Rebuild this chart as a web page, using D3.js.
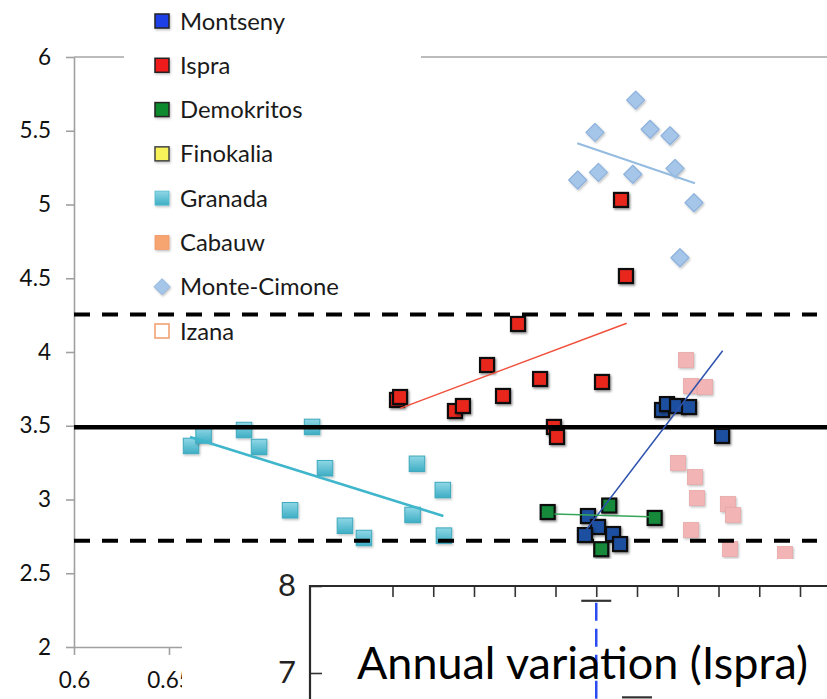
<!DOCTYPE html>
<html>
<head>
<meta charset="utf-8">
<script src="https://cdn.jsdelivr.net/npm/d3@7"></script>
<style>
  html, body { margin: 0; padding: 0; background: #fff; }
  svg { display: block; font-family: Lato, "Open Sans", "DejaVu Sans", sans-serif; }
</style>
</head>
<body>
<svg id="chart" width="827" height="699"></svg>
<script>
// ---- Data: x = ratio, y = value per station ----
const montsenyX = [0.8705, 0.8758, 0.8689, 0.8837, 0.8874, 0.9095, 0.9121, 0.9174, 0.9237, 0.9411];
const montsenyY = [2.888, 2.814, 2.759, 2.766, 2.698, 3.607, 3.647, 3.634, 3.627, 3.431];

const ispraX = [0.7700, 0.7716, 0.8005, 0.8047, 0.8174, 0.8258, 0.8337, 0.8453, 0.8526, 0.8542, 0.8779, 0.8879, 0.8905];
const ispraY = [3.675, 3.695, 3.600, 3.634, 3.912, 3.702, 4.190, 3.817, 3.492, 3.424, 3.797, 5.031, 4.515];

const demokritosX = [0.8493, 0.8817, 0.9056, 0.8775];
const demokritosY = [2.915, 2.959, 2.875, 2.663];

const granadaX = [0.6616, 0.6682, 0.6895, 0.6974, 0.7253, 0.7321, 0.7137, 0.7426, 0.7526, 0.7805, 0.7782, 0.7941, 0.7947];
const granadaY = [3.363, 3.434, 3.471, 3.356, 3.492, 3.212, 2.927, 2.822, 2.739, 3.242, 2.895, 3.064, 2.755];

const cabauwX = [0.9221, 0.9247, 0.9321, 0.9179, 0.9268, 0.9279, 0.9442, 0.9468, 0.9247, 0.9453, 0.9742];
const cabauwY = [3.946, 3.769, 3.763, 3.247, 3.153, 3.010, 2.969, 2.895, 2.793, 2.664, 2.631];

const monteCimoneX = [0.8956, 0.8742, 0.9032, 0.9137, 0.8651, 0.8760, 0.8941, 0.9163, 0.9263, 0.9189];
const monteCimoneY = [5.708, 5.489, 5.510, 5.466, 5.166, 5.218, 5.205, 5.245, 5.012, 4.639];

// Linear trend lines (end points)
const ispraTrendX = [0.7716, 0.8909],       ispraTrendY = [3.618, 4.195];
const granadaTrendX = [0.6611, 0.7944],     granadaTrendY = [3.424, 2.888];
const montsenyTrendX = [0.8698, 0.9414],    montsenyTrendY = [2.798, 4.009];
const demokritosTrendX = [0.8528, 0.9028],  demokritosTrendY = [2.902, 2.883];
const monteCimoneTrendX = [0.8649, 0.9268], monteCimoneTrendY = [5.415, 5.144];

// Reference levels: mean and mean ± spread
const refMean = 3.49;
const refBand = [4.255, 2.72];

// Axis ticks
const yTicks = [2, 2.5, 3, 3.5, 4, 4.5, 5, 5.5, 6];
const xTicks = [0.6, 0.65];

// Legend entries
const legendNames = ["Montseny", "Ispra", "Demokritos", "Finokalia", "Granada", "Cabauw", "Monte-Cimone", "Izana"];

// Inset: annual variation (Ispra), monthly whiskers
const insetTicks = [2, 3, 4, 5, 6, 7, 8, 9, 10, 11, 12];
const insetYTicks = [7, 8];
const insetMonth = [7, 8];
const insetWhiskerTop = [7.83, 6.72];
const insetWhiskerBottom = [5.9, 5.9];
const insetTitle = "Annual variation (Ispra)";

// ---- Drawing ----
const W = 827, H = 699;
const svg = d3.select("#chart");
const x = d3.scaleLinear().domain([0.6, 1.0]).range([74, 834]);
const y = d3.scaleLinear().domain([2, 6]).range([647, 57]);

const defs = svg.append("defs");
const sh = defs.append("filter").attr("id", "shadow").attr("x", "-40%").attr("y", "-40%").attr("width", "180%").attr("height", "180%");
sh.append("feDropShadow").attr("dx", 1.2).attr("dy", 1.6).attr("stdDeviation", 1.1).attr("flood-color", "#000").attr("flood-opacity", 0.45);
const shSoft = defs.append("filter").attr("id", "shadowSoft").attr("x", "-40%").attr("y", "-40%").attr("width", "180%").attr("height", "180%");
shSoft.append("feDropShadow").attr("dx", 1).attr("dy", 1.4).attr("stdDeviation", 1.2).attr("flood-color", "#000").attr("flood-opacity", 0.25);

const gGran = defs.append("linearGradient").attr("id", "granGrad").attr("x1", 0).attr("y1", 0).attr("x2", 0).attr("y2", 1);
gGran.append("stop").attr("offset", "0%").attr("stop-color", "#8fd7e6");
gGran.append("stop").attr("offset", "100%").attr("stop-color", "#3eaec4");

// Top frame line
svg.append("line")
  .attr("x1", x(0.6)).attr("x2", W).attr("y1", y(6)).attr("y2", y(6))
  .attr("stroke", "#a6a6a6").attr("stroke-width", 1.6);

// Y axis
const gy = svg.append("g").attr("transform", `translate(${x(0.6)},0)`)
  .call(d3.axisLeft(y).tickValues(yTicks).tickSize(8).tickSizeOuter(0).tickPadding(15).tickFormat(d3.format("")));
gy.attr("font-family", null).attr("font-size", null);
gy.select(".domain").attr("stroke", "#a0a0a0").attr("stroke-width", 1.6);
gy.selectAll(".tick line").attr("stroke", "#a0a0a0").attr("stroke-width", 1.6);
gy.selectAll(".tick text").attr("font-size", 22.5).attr("fill", "#111");

// X axis (the part left of the inset)
const gx = svg.append("g").attr("transform", `translate(0,${y(2)})`)
  .call(d3.axisBottom(x).tickValues(xTicks).tickSize(8).tickSizeOuter(0).tickPadding(17).tickFormat(d3.format("")));
gx.attr("font-family", null).attr("font-size", null);
gx.select(".domain").attr("stroke", "#a0a0a0").attr("stroke-width", 1.6);
gx.selectAll(".tick line").attr("stroke", "#a0a0a0").attr("stroke-width", 1.6);
gx.selectAll(".tick text").attr("font-size", 22.5).attr("fill", "#111");

// Legend background
svg.append("rect").attr("x", 124).attr("y", 0).attr("width", 297).attr("height", 300).attr("fill", "#fff");

function pts(xs, ys) { return xs.map((v, i) => ({ x: v, y: ys[i] })); }

function squares(data, size, fill, stroke, sw, filter) {
  svg.append("g").selectAll("rect").data(data).join("rect")
    .attr("x", d => x(d.x) - size / 2).attr("y", d => y(d.y) - size / 2)
    .attr("width", size).attr("height", size)
    .attr("fill", fill).attr("stroke", stroke).attr("stroke-width", sw)
    .attr("filter", filter);
}

function diamonds(data, size, fill, stroke) {
  svg.append("g").selectAll("path").data(data).join("path")
    .attr("d", d => {
      const cx = x(d.x), cy = y(d.y), r = size / 2;
      return `M${cx},${cy - r}L${cx + r},${cy}L${cx},${cy + r}L${cx - r},${cy}Z`;
    })
    .attr("fill", fill).attr("stroke", stroke).attr("stroke-width", 1.2)
    .attr("stroke-linejoin", "round").attr("filter", "url(#shadowSoft)");
}

function trend(xs, ys, color, width) {
  svg.append("line")
    .attr("x1", x(xs[0])).attr("y1", y(ys[0]))
    .attr("x2", x(xs[1])).attr("y2", y(ys[1]))
    .attr("stroke", color).attr("stroke-width", width);
}

// Points under the reference lines
squares(pts(cabauwX, cabauwY), 15, "#f2b4b4", "#e8a8a8", 0.8, "url(#shadowSoft)");
squares(pts(granadaX, granadaY), 15.5, "url(#granGrad)", "#3ea9bd", 1, "url(#shadowSoft)");
diamonds(pts(monteCimoneX, monteCimoneY), 18, "#a6c6e9", "#8db2dd");
squares(pts(ispraX, ispraY), 14, "#e8281e", "#111", 2.2, "url(#shadow)");

// Reference lines
svg.append("line")
  .attr("x1", x(0.6)).attr("x2", W).attr("y1", y(refMean)).attr("y2", y(refMean))
  .attr("stroke", "#000").attr("stroke-width", 4.5);
svg.append("g").selectAll("line").data(refBand).join("line")
  .attr("x1", x(0.6)).attr("x2", 817).attr("y1", d => y(d)).attr("y2", d => y(d))
  .attr("stroke", "#000").attr("stroke-width", 4).attr("stroke-dasharray", "16,12");

// Points above the reference lines
squares(pts(montsenyX, montsenyY), 14, "#1f4f9f", "#111", 2.2, "url(#shadow)");
squares(pts(demokritosX, demokritosY), 14, "#12893a", "#111", 2.2, "url(#shadow)");

// Trend lines
trend(ispraTrendX, ispraTrendY, "#f0503c", 1.5);
trend(granadaTrendX, granadaTrendY, "#3fb6cb", 2.6);
trend(montsenyTrendX, montsenyTrendY, "#2d52ad", 1.5);
trend(demokritosTrendX, demokritosTrendY, "#35a659", 1.5);
trend(monteCimoneTrendX, monteCimoneTrendY, "#94bbe0", 2);

// Legend
const legendStyle = {
  "Montseny":     { shape: "sq", fill: "#1c40e6", stroke: "#222", sw: 1.5 },
  "Ispra":        { shape: "sq", fill: "#f01a1a", stroke: "#222", sw: 1.5 },
  "Demokritos":   { shape: "sq", fill: "#0b8a2e", stroke: "#222", sw: 1.5 },
  "Finokalia":    { shape: "sq", fill: "#f7f25a", stroke: "#444", sw: 1.5 },
  "Granada":      { shape: "sq", fill: "url(#granGrad)", stroke: "#52bbd0", sw: 0.8 },
  "Cabauw":       { shape: "sq", fill: "#f6a46f", stroke: "#f0986a", sw: 0.8 },
  "Monte-Cimone": { shape: "dm", fill: "#a6c6e9", stroke: "#8db2dd", sw: 1 },
  "Izana":        { shape: "sq", fill: "#fff", stroke: "#f2a273", sw: 1.6 }
};
const legY = d3.scalePoint().domain(legendNames).range([21, 331]);
const leg = svg.append("g").selectAll("g").data(legendNames).join("g")
  .attr("transform", d => `translate(162,${legY(d)})`);
leg.each(function (d) {
  const s = legendStyle[d], g = d3.select(this);
  if (s.shape === "sq") {
    g.append("rect").attr("x", -7).attr("y", -7).attr("width", 14).attr("height", 14)
      .attr("fill", s.fill).attr("stroke", s.stroke).attr("stroke-width", s.sw)
      .attr("filter", d === "Izana" ? null : "url(#shadowSoft)");
  } else {
    g.append("path").attr("d", "M0,-8L8,0L0,8L-8,0Z")
      .attr("fill", s.fill).attr("stroke", s.stroke).attr("stroke-width", s.sw)
      .attr("filter", "url(#shadowSoft)");
  }
});
const legText = leg.append("text").attr("x", 18).attr("dy", "0.36em")
  .attr("font-size", 20).attr("fill", "#1a1a1a").text(d => d);
const mcW = legText.filter(d => d === "Monte-Cimone").node().getComputedTextLength();
legText.attr("font-size", 20 * 159 / mcW);

// ---- Inset ----
svg.append("rect").attr("x", 182).attr("y", 559).attr("width", W - 182).attr("height", H - 559).attr("fill", "#fff");

const ix = d3.scaleLinear().domain([0, 12]).range([311, 800]);
const iy = d3.scaleLinear().domain([7, 8]).range([673, 586]);

const gix = svg.append("g").attr("transform", `translate(0,${iy(8)})`)
  .call(d3.axisBottom(ix).tickValues(insetTicks).tickSize(11).tickSizeOuter(0).tickFormat(""));
gix.select(".domain").remove();
gix.selectAll(".tick line").attr("stroke", "#333").attr("stroke-width", 1.6);

const giy = svg.append("g").attr("transform", `translate(310,0)`)
  .call(d3.axisLeft(iy).tickValues(insetYTicks).tickSizeInner(-12).tickSizeOuter(0).tickPadding(14).tickFormat(d3.format("d")));
giy.attr("font-family", null).attr("font-size", null);
giy.select(".domain").remove();
giy.selectAll(".tick line").attr("stroke", "#333").attr("stroke-width", 1.6);
giy.selectAll(".tick text").attr("font-size", 31).attr("fill", "#222");

// Inset frame
svg.append("path")
  .attr("d", `M310,${H}V${iy(8)}H${W}`)
  .attr("fill", "none").attr("stroke", "#2a2a2a").attr("stroke-width", 2.2);

// Whiskers
const wh = svg.append("g").selectAll("g").data(insetMonth.map((m, i) => ({ m, top: insetWhiskerTop[i], bot: insetWhiskerBottom[i] }))).join("g");
wh.append("line")
  .attr("x1", d => ix(d.m)).attr("x2", d => ix(d.m))
  .attr("y1", d => iy(d.top) + 2).attr("y2", d => iy(d.bot))
  .attr("stroke", "#2b4cf2").attr("stroke-width", 2.5).attr("stroke-dasharray", "18,8");
wh.append("line")
  .attr("x1", d => ix(d.m) - 15).attr("x2", d => ix(d.m) + 15)
  .attr("y1", d => iy(d.top)).attr("y2", d => iy(d.top))
  .attr("stroke", "#333").attr("stroke-width", 2.2);

// Inset title
const title = svg.append("text").attr("x", 357).attr("y", 679)
  .attr("font-size", 40).attr("fill", "#000").text(insetTitle);
const tW = title.node().getComputedTextLength();
title.attr("font-size", 40 * 451 / tW);
</script>
</body>
</html>
